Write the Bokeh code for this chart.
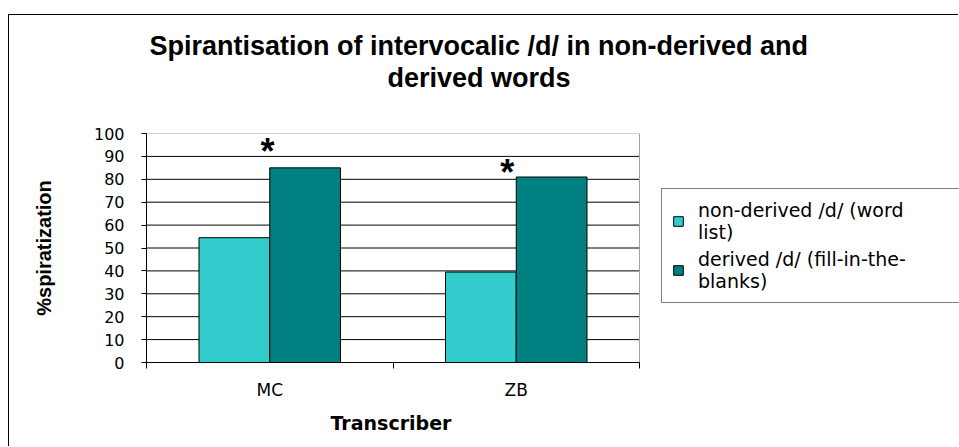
import numpy as np
from bokeh.plotting import figure
from bokeh.models import FixedTicker, Legend, LegendItem, Title
from bokeh.core.properties import value
from bokeh.embed import file_html
from bokeh.resources import INLINE

# ---- data ----
categories = ["MC", "ZB"]
series_names = ["non-derived /d/ (word\nlist)", "derived /d/ (fill-in-the-\nblanks)"]
non_derived = [54.5, 39.5]
derived = [85, 81]
y_ticks = [0, 10, 20, 30, 40, 50, 60, 70, 80, 90, 100]
star_categories = ["MC", "ZB"]
star_y = [94, 84.5]
star_dx = [-0.009, -0.036]
title_lines = ["Spirantisation of intervocalic /d/ in non-derived and", "derived words"]
x_title = "Transcriber"
y_title = "%spiratization"

colors = ["#33CCCC", "#008080"]
ARIAL = "Liberation Sans"
WIDE = "DejaVu Sans"

# ---- layout (pixels) ----
W, H = 950, 432
LEFT, TOP, BOTTOM = 137, 118, 85
PLOT_PX = 493                      # width of the plotting area for the categories
n = len(categories)
x_end = n * (W - LEFT) / PLOT_PX   # frame extends to the right edge (room for legend)

p = figure(width=W, height=H, output_backend="svg", toolbar_location=None,
           x_range=(0, x_end), y_range=(0, 100),
           min_border_left=LEFT, min_border_right=0, min_border_top=TOP, min_border_bottom=BOTTOM)
p.styles = {"border-left": "1px solid #000000", "border-top": "1px solid #000000",
            "margin-left": "8px", "margin-top": "14px"}
p.title = None
p.outline_line_color = None
p.background_fill_color = "white"
p.border_fill_color = "white"
p.xgrid.visible = False
p.ygrid.visible = False

# gridlines and plot-area border
grid_y = y_ticks[1:-1]
p.segment(x0=[0] * len(grid_y), x1=[n] * len(grid_y), y0=grid_y, y1=grid_y,
          line_color="black", line_width=1)
p.segment(x0=[0, n], x1=[n, n], y0=[y_ticks[-1], 0], y1=[y_ticks[-1], y_ticks[-1]],
          line_color="#a0a0a0", line_width=1)

centers = np.arange(n) + 0.5
bw = 0.287
r1 = p.vbar(x=centers - bw / 2, top=non_derived, width=bw, bottom=0,
            fill_color=colors[0], line_color="black", line_width=1)
r2 = p.vbar(x=centers + bw / 2, top=derived, width=bw, bottom=0,
            fill_color=colors[1], line_color="black", line_width=1)

# significance stars
sx = [centers[categories.index(c)] + d for c, d in zip(star_categories, star_dx)]
p.text(x=sx, y=star_y, text=["*"] * len(sx), text_font=value(ARIAL), text_font_style="bold",
       text_font_size="36px", text_align="center", text_baseline="middle",
       y_offset=4, text_color="black")

# x axis: labels at centres, tick marks between categories
p.xaxis.bounds = (0, n)
p.xaxis.ticker = FixedTicker(ticks=list(centers), minor_ticks=list(range(n + 1)))
p.xaxis.major_label_overrides = {float(c): lab for c, lab in zip(centers, categories)}
p.xaxis.major_tick_out = 0
p.xaxis.major_tick_in = 0
p.xaxis.minor_tick_out = 6
p.xaxis.minor_tick_in = 0
p.xaxis.minor_tick_line_color = "black"
p.xaxis.axis_line_color = "black"
p.xaxis.major_label_text_font = WIDE
p.xaxis.major_label_text_font_size = "17px"
p.xaxis.major_label_text_color = "black"
p.xaxis.major_label_standoff = 11

p.yaxis.ticker = FixedTicker(ticks=y_ticks)
p.yaxis.minor_tick_line_color = None
p.yaxis.major_tick_out = 5
p.yaxis.major_tick_in = 0
p.yaxis.axis_line_color = "black"
p.yaxis.major_tick_line_color = "black"
p.yaxis.major_label_text_font = WIDE
p.yaxis.major_label_text_font_size = "16px"
p.yaxis.major_label_text_color = "black"
p.yaxis.major_label_standoff = 17
p.yaxis.axis_label = y_title
p.yaxis.axis_label_text_font = ARIAL
p.yaxis.axis_label_text_font_style = "bold"
p.yaxis.axis_label_text_font_size = "20px"
p.yaxis.axis_label_text_color = "black"
p.yaxis.axis_label_standoff = 36

has_standoff = "standoff" in Title.properties()

# x-axis title, centred under the plotting area (below panel)
xt = Title(text=x_title, align="left", offset=184, text_font=WIDE, text_font_style="bold",
           text_font_size="19px", text_color="black")
if has_standoff:
    xt.standoff = 14
p.add_layout(xt, "above" if False else "below")

# chart title: spacer next to the frame, then line 2, then line 1 (stacked outward)
spacer = Title(text=" ", align="left", text_font=ARIAL, text_font_size="27px")
if has_standoff:
    spacer.standoff = 9
p.add_layout(spacer, "above")
for line, off in [(title_lines[1], 241), (title_lines[0], 3)]:
    t = Title(text=line, align="left", offset=off, text_font=ARIAL,
              text_font_style="bold", text_font_size="27px", text_color="black")
    if has_standoff:
        t.standoff = 0
    p.add_layout(t, "above")

# legend inside the (wide) frame, to the right of the plotting area
legend = Legend(items=[LegendItem(label=series_names[0], renderers=[r1]),
                       LegendItem(label=series_names[1], renderers=[r2])],
                location=(515, 59))
legend.border_line_color = "black"
legend.border_line_width = 1
legend.label_text_font = WIDE
legend.label_text_font_size = "19px"
legend.label_text_color = "black"
legend.label_text_line_height = 1.15
legend.label_standoff = 14
legend.label_width = 320
legend.glyph_width = 12
legend.glyph_height = 12
legend.padding = 10
legend.spacing = 5
legend.margin = 0
p.add_layout(legend, "center")

open("out.html", "w").write(file_html(p, INLINE))
